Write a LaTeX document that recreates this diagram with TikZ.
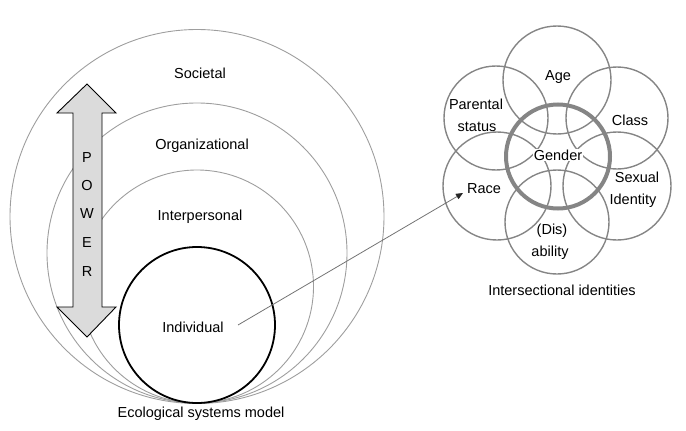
\documentclass[tikz,border=0pt]{standalone}
\usepackage{fontspec}
\setmainfont{Liberation Sans}
\usetikzlibrary{arrows.meta}
\begin{document}
\begin{tikzpicture}[x=1pt,y=-1pt,
  eco/.style={draw=black!38,line width=0.9pt},
  indiv/.style={draw=black,line width=1.8pt},
  ident/.style={draw=black!48,line width=1.4pt},
  gend/.style={draw=black!48,line width=4pt},
  lbl/.style={font=\fontsize{14.5}{16}\selectfont,inner sep=1pt,align=center},
  letter/.style={font=\fontsize{14.5}{16}\selectfont,inner sep=0pt}]
\useasboundingbox (0,0) rectangle (686,431);
% ecological circles
\draw[eco] (197,216.5) circle[radius=187];
\draw[eco] (197,253) circle[radius=150];
\draw[eco] (197,286.5) circle[radius=116.5];
\draw[indiv] (197,325) circle[radius=78];
\node[lbl] (soc) at (200,73) {Societal};
\node[lbl] (org) at (202,146) {Organizational};
\node[lbl] (inter) at (200,217) {Interpersonal};
\node[lbl] (ind) at (193,327) {Individual};
\node[lbl] (eco) at (201,414) {Ecological systems model};
% power arrow
\draw[black,line width=0.9pt,fill=black!14,line join=miter]
  (87,84) -- (116,113) -- (102,113) -- (102,307) -- (116,307) -- (87,337)
  -- (57,307) -- (73,307) -- (73,113) -- (57,113) -- cycle;
\node[letter] (p) at (87,158) {P};
\node[letter] (o) at (87,186) {O};
\node[letter] (w) at (87,214) {W};
\node[letter] (e) at (87,243) {E};
\node[letter] (r) at (87,272) {R};
% intersectional identities
\draw[ident] (557,80) circle[radius=54];
\draw[ident] (617,118) circle[radius=51];
\draw[ident] (617,186) circle[radius=54];
\draw[ident] (557,222) circle[radius=52];
\draw[ident] (497,186) circle[radius=54];
\draw[ident] (496,118) circle[radius=52];
\draw[gend] (558,156.5) circle[radius=52];
\node[lbl] (age) at (558,77) {Age};
\node[lbl] (par) at (476,104) {Parental};
\node[lbl] (sta) at (477,127) {status};
\node[lbl] (cls) at (630,120) {Class};
\node[lbl,fill=white,inner sep=0.5pt] (gen) at (558,155) {Gender};
\node[lbl] (race) at (484,189) {Race};
\node[lbl] (sex) at (637,177) {Sexual};
\node[lbl] (idt) at (633,201) {Identity};
\node[lbl] (dis) at (552,231) {(Dis)};
\node[lbl] (abl) at (550,253) {ability};
\node[lbl] (int) at (562,290) {Intersectional identities};
% connector
\coordinate (from) at (238,325);
\coordinate (to) at (463,193);
\draw[black!55,line width=0.8pt,-{Triangle[length=7pt,width=6pt,fill=black!85,color=black!85]}] (from) -- (to);
\end{tikzpicture}
\end{document}
